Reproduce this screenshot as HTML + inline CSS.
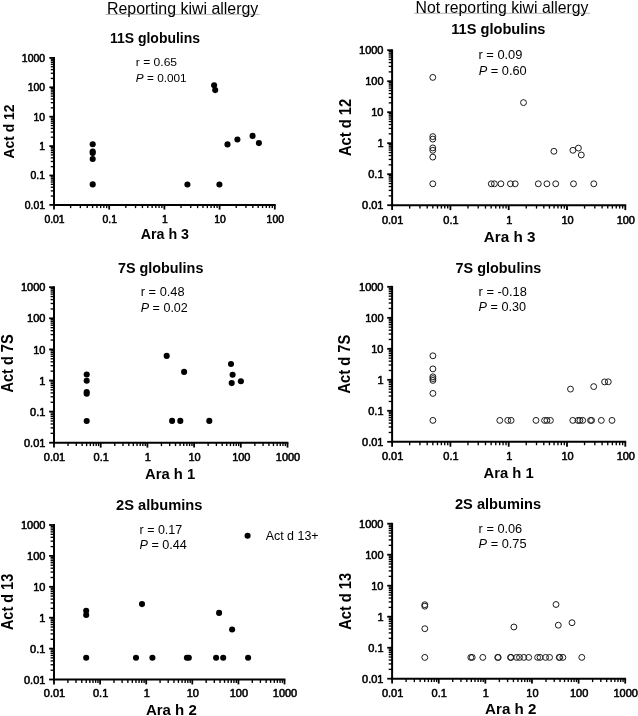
<!DOCTYPE html>
<html><head><meta charset="utf-8"><title>Figure</title>
<style>
html,body{margin:0;padding:0;background:#fff;}
svg{display:block;font-family:"Liberation Sans", sans-serif;will-change:transform;}
</style></head><body>
<svg width="638" height="716" viewBox="0 0 638 716">
<rect width="638" height="716" fill="#fff"/>
<line x1="54.00" y1="57.00" x2="54.00" y2="205.90" stroke="#000" stroke-width="2.0"/>
<line x1="53.00" y1="204.90" x2="275.70" y2="204.90" stroke="#000" stroke-width="2.0"/>
<line x1="49.36" y1="204.90" x2="54.00" y2="204.90" stroke="#000" stroke-width="1.8"/>
<text transform="translate(45.00,208.84)" text-anchor="end" style="font-size:10.42px;stroke:#000;stroke-width:0.55px;stroke-linejoin:round;" fill="#000">0.01</text>
<line x1="50.78" y1="196.05" x2="54.00" y2="196.05" stroke="#000" stroke-width="1.35"/>
<line x1="50.78" y1="190.87" x2="54.00" y2="190.87" stroke="#000" stroke-width="1.35"/>
<line x1="50.78" y1="187.20" x2="54.00" y2="187.20" stroke="#000" stroke-width="1.35"/>
<line x1="50.78" y1="184.35" x2="54.00" y2="184.35" stroke="#000" stroke-width="1.35"/>
<line x1="50.78" y1="182.02" x2="54.00" y2="182.02" stroke="#000" stroke-width="1.35"/>
<line x1="50.78" y1="180.05" x2="54.00" y2="180.05" stroke="#000" stroke-width="1.35"/>
<line x1="50.78" y1="178.35" x2="54.00" y2="178.35" stroke="#000" stroke-width="1.35"/>
<line x1="50.78" y1="176.85" x2="54.00" y2="176.85" stroke="#000" stroke-width="1.35"/>
<line x1="49.36" y1="175.50" x2="54.00" y2="175.50" stroke="#000" stroke-width="1.8"/>
<text transform="translate(45.00,179.44)" text-anchor="end" style="font-size:10.42px;stroke:#000;stroke-width:0.55px;stroke-linejoin:round;" fill="#000">0.1</text>
<line x1="50.78" y1="166.65" x2="54.00" y2="166.65" stroke="#000" stroke-width="1.35"/>
<line x1="50.78" y1="161.47" x2="54.00" y2="161.47" stroke="#000" stroke-width="1.35"/>
<line x1="50.78" y1="157.80" x2="54.00" y2="157.80" stroke="#000" stroke-width="1.35"/>
<line x1="50.78" y1="154.95" x2="54.00" y2="154.95" stroke="#000" stroke-width="1.35"/>
<line x1="50.78" y1="152.62" x2="54.00" y2="152.62" stroke="#000" stroke-width="1.35"/>
<line x1="50.78" y1="150.65" x2="54.00" y2="150.65" stroke="#000" stroke-width="1.35"/>
<line x1="50.78" y1="148.95" x2="54.00" y2="148.95" stroke="#000" stroke-width="1.35"/>
<line x1="50.78" y1="147.45" x2="54.00" y2="147.45" stroke="#000" stroke-width="1.35"/>
<line x1="49.36" y1="146.10" x2="54.00" y2="146.10" stroke="#000" stroke-width="1.8"/>
<text transform="translate(45.00,150.04)" text-anchor="end" style="font-size:10.42px;stroke:#000;stroke-width:0.55px;stroke-linejoin:round;" fill="#000">1</text>
<line x1="50.78" y1="137.25" x2="54.00" y2="137.25" stroke="#000" stroke-width="1.35"/>
<line x1="50.78" y1="132.07" x2="54.00" y2="132.07" stroke="#000" stroke-width="1.35"/>
<line x1="50.78" y1="128.40" x2="54.00" y2="128.40" stroke="#000" stroke-width="1.35"/>
<line x1="50.78" y1="125.55" x2="54.00" y2="125.55" stroke="#000" stroke-width="1.35"/>
<line x1="50.78" y1="123.22" x2="54.00" y2="123.22" stroke="#000" stroke-width="1.35"/>
<line x1="50.78" y1="121.25" x2="54.00" y2="121.25" stroke="#000" stroke-width="1.35"/>
<line x1="50.78" y1="119.55" x2="54.00" y2="119.55" stroke="#000" stroke-width="1.35"/>
<line x1="50.78" y1="118.05" x2="54.00" y2="118.05" stroke="#000" stroke-width="1.35"/>
<line x1="49.36" y1="116.70" x2="54.00" y2="116.70" stroke="#000" stroke-width="1.8"/>
<text transform="translate(45.00,120.64)" text-anchor="end" style="font-size:10.42px;stroke:#000;stroke-width:0.55px;stroke-linejoin:round;" fill="#000">10</text>
<line x1="50.78" y1="107.85" x2="54.00" y2="107.85" stroke="#000" stroke-width="1.35"/>
<line x1="50.78" y1="102.67" x2="54.00" y2="102.67" stroke="#000" stroke-width="1.35"/>
<line x1="50.78" y1="99.00" x2="54.00" y2="99.00" stroke="#000" stroke-width="1.35"/>
<line x1="50.78" y1="96.15" x2="54.00" y2="96.15" stroke="#000" stroke-width="1.35"/>
<line x1="50.78" y1="93.82" x2="54.00" y2="93.82" stroke="#000" stroke-width="1.35"/>
<line x1="50.78" y1="91.85" x2="54.00" y2="91.85" stroke="#000" stroke-width="1.35"/>
<line x1="50.78" y1="90.15" x2="54.00" y2="90.15" stroke="#000" stroke-width="1.35"/>
<line x1="50.78" y1="88.65" x2="54.00" y2="88.65" stroke="#000" stroke-width="1.35"/>
<line x1="49.36" y1="87.30" x2="54.00" y2="87.30" stroke="#000" stroke-width="1.8"/>
<text transform="translate(45.00,91.24)" text-anchor="end" style="font-size:10.42px;stroke:#000;stroke-width:0.55px;stroke-linejoin:round;" fill="#000">100</text>
<line x1="50.78" y1="78.45" x2="54.00" y2="78.45" stroke="#000" stroke-width="1.35"/>
<line x1="50.78" y1="73.27" x2="54.00" y2="73.27" stroke="#000" stroke-width="1.35"/>
<line x1="50.78" y1="69.60" x2="54.00" y2="69.60" stroke="#000" stroke-width="1.35"/>
<line x1="50.78" y1="66.75" x2="54.00" y2="66.75" stroke="#000" stroke-width="1.35"/>
<line x1="50.78" y1="64.42" x2="54.00" y2="64.42" stroke="#000" stroke-width="1.35"/>
<line x1="50.78" y1="62.45" x2="54.00" y2="62.45" stroke="#000" stroke-width="1.35"/>
<line x1="50.78" y1="60.75" x2="54.00" y2="60.75" stroke="#000" stroke-width="1.35"/>
<line x1="50.78" y1="59.25" x2="54.00" y2="59.25" stroke="#000" stroke-width="1.35"/>
<line x1="49.36" y1="57.90" x2="54.00" y2="57.90" stroke="#000" stroke-width="1.8"/>
<text transform="translate(45.00,61.84)" text-anchor="end" style="font-size:10.42px;stroke:#000;stroke-width:0.55px;stroke-linejoin:round;" fill="#000">1000</text>
<line x1="54.00" y1="204.90" x2="54.00" y2="209.54" stroke="#000" stroke-width="1.8"/>
<text transform="translate(54.50,222.75)" text-anchor="middle" style="font-size:10.42px;stroke:#000;stroke-width:0.55px;stroke-linejoin:round;" fill="#000">0.01</text>
<line x1="70.62" y1="204.90" x2="70.62" y2="208.12" stroke="#000" stroke-width="1.35"/>
<line x1="80.34" y1="204.90" x2="80.34" y2="208.12" stroke="#000" stroke-width="1.35"/>
<line x1="87.23" y1="204.90" x2="87.23" y2="208.12" stroke="#000" stroke-width="1.35"/>
<line x1="92.58" y1="204.90" x2="92.58" y2="208.12" stroke="#000" stroke-width="1.35"/>
<line x1="96.95" y1="204.90" x2="96.95" y2="208.12" stroke="#000" stroke-width="1.35"/>
<line x1="100.65" y1="204.90" x2="100.65" y2="208.12" stroke="#000" stroke-width="1.35"/>
<line x1="103.85" y1="204.90" x2="103.85" y2="208.12" stroke="#000" stroke-width="1.35"/>
<line x1="106.67" y1="204.90" x2="106.67" y2="208.12" stroke="#000" stroke-width="1.35"/>
<line x1="109.20" y1="204.90" x2="109.20" y2="209.54" stroke="#000" stroke-width="1.8"/>
<text transform="translate(109.70,222.75)" text-anchor="middle" style="font-size:10.42px;stroke:#000;stroke-width:0.55px;stroke-linejoin:round;" fill="#000">0.1</text>
<line x1="125.82" y1="204.90" x2="125.82" y2="208.12" stroke="#000" stroke-width="1.35"/>
<line x1="135.54" y1="204.90" x2="135.54" y2="208.12" stroke="#000" stroke-width="1.35"/>
<line x1="142.43" y1="204.90" x2="142.43" y2="208.12" stroke="#000" stroke-width="1.35"/>
<line x1="147.78" y1="204.90" x2="147.78" y2="208.12" stroke="#000" stroke-width="1.35"/>
<line x1="152.15" y1="204.90" x2="152.15" y2="208.12" stroke="#000" stroke-width="1.35"/>
<line x1="155.85" y1="204.90" x2="155.85" y2="208.12" stroke="#000" stroke-width="1.35"/>
<line x1="159.05" y1="204.90" x2="159.05" y2="208.12" stroke="#000" stroke-width="1.35"/>
<line x1="161.87" y1="204.90" x2="161.87" y2="208.12" stroke="#000" stroke-width="1.35"/>
<line x1="164.40" y1="204.90" x2="164.40" y2="209.54" stroke="#000" stroke-width="1.8"/>
<text transform="translate(164.90,222.75)" text-anchor="middle" style="font-size:10.42px;stroke:#000;stroke-width:0.55px;stroke-linejoin:round;" fill="#000">1</text>
<line x1="181.02" y1="204.90" x2="181.02" y2="208.12" stroke="#000" stroke-width="1.35"/>
<line x1="190.74" y1="204.90" x2="190.74" y2="208.12" stroke="#000" stroke-width="1.35"/>
<line x1="197.63" y1="204.90" x2="197.63" y2="208.12" stroke="#000" stroke-width="1.35"/>
<line x1="202.98" y1="204.90" x2="202.98" y2="208.12" stroke="#000" stroke-width="1.35"/>
<line x1="207.35" y1="204.90" x2="207.35" y2="208.12" stroke="#000" stroke-width="1.35"/>
<line x1="211.05" y1="204.90" x2="211.05" y2="208.12" stroke="#000" stroke-width="1.35"/>
<line x1="214.25" y1="204.90" x2="214.25" y2="208.12" stroke="#000" stroke-width="1.35"/>
<line x1="217.07" y1="204.90" x2="217.07" y2="208.12" stroke="#000" stroke-width="1.35"/>
<line x1="219.60" y1="204.90" x2="219.60" y2="209.54" stroke="#000" stroke-width="1.8"/>
<text transform="translate(220.10,222.75)" text-anchor="middle" style="font-size:10.42px;stroke:#000;stroke-width:0.55px;stroke-linejoin:round;" fill="#000">10</text>
<line x1="236.22" y1="204.90" x2="236.22" y2="208.12" stroke="#000" stroke-width="1.35"/>
<line x1="245.94" y1="204.90" x2="245.94" y2="208.12" stroke="#000" stroke-width="1.35"/>
<line x1="252.83" y1="204.90" x2="252.83" y2="208.12" stroke="#000" stroke-width="1.35"/>
<line x1="258.18" y1="204.90" x2="258.18" y2="208.12" stroke="#000" stroke-width="1.35"/>
<line x1="262.55" y1="204.90" x2="262.55" y2="208.12" stroke="#000" stroke-width="1.35"/>
<line x1="266.25" y1="204.90" x2="266.25" y2="208.12" stroke="#000" stroke-width="1.35"/>
<line x1="269.45" y1="204.90" x2="269.45" y2="208.12" stroke="#000" stroke-width="1.35"/>
<line x1="272.27" y1="204.90" x2="272.27" y2="208.12" stroke="#000" stroke-width="1.35"/>
<line x1="274.80" y1="204.90" x2="274.80" y2="209.54" stroke="#000" stroke-width="1.8"/>
<text transform="translate(275.30,222.75)" text-anchor="middle" style="font-size:10.42px;stroke:#000;stroke-width:0.55px;stroke-linejoin:round;" fill="#000">100</text>
<text transform="translate(155.00,42.60)" text-anchor="middle" style="font-size:13.83px;font-weight:bold;" fill="#000" textLength="90.00" lengthAdjust="spacingAndGlyphs">11S globulins</text>
<text transform="translate(135.80,66.20) scale(1.0526,1)" text-anchor="start" style="font-size:11.34px;" fill="#000" textLength="39.23" lengthAdjust="spacingAndGlyphs">r = 0.65</text>
<text transform="translate(135.80,81.60) scale(1.0526,1)" style="font-size:11.34px" textLength="48.35" lengthAdjust="spacingAndGlyphs"><tspan style="font-style:italic">P</tspan> = 0.001</text>
<text transform="translate(14.00,131.45) rotate(-90)" text-anchor="middle" style="font-size:13.92px;font-weight:bold;" fill="#000" textLength="53.90" lengthAdjust="spacingAndGlyphs">Act d 12</text>
<text transform="translate(164.85,239.00)" text-anchor="middle" style="font-size:13.83px;font-weight:bold;" fill="#000" textLength="48.30" lengthAdjust="spacingAndGlyphs">Ara h 3</text>
<circle cx="92.7" cy="144.3" r="3.05" fill="#000"/>
<circle cx="92.7" cy="151.5" r="3.05" fill="#000"/>
<circle cx="92.7" cy="153.1" r="3.05" fill="#000"/>
<circle cx="92.7" cy="159.0" r="3.05" fill="#000"/>
<circle cx="92.7" cy="184.4" r="3.05" fill="#000"/>
<circle cx="187.4" cy="184.5" r="3.05" fill="#000"/>
<circle cx="219.4" cy="184.5" r="3.05" fill="#000"/>
<circle cx="214.1" cy="85.2" r="3.05" fill="#000"/>
<circle cx="215.2" cy="90.1" r="3.05" fill="#000"/>
<circle cx="227.5" cy="144.4" r="3.05" fill="#000"/>
<circle cx="237.4" cy="139.5" r="3.05" fill="#000"/>
<circle cx="252.6" cy="135.9" r="3.05" fill="#000"/>
<circle cx="258.9" cy="143.1" r="3.05" fill="#000"/>
<line x1="392.10" y1="49.30" x2="392.10" y2="206.20" stroke="#000" stroke-width="2.0"/>
<line x1="391.10" y1="205.20" x2="626.20" y2="205.20" stroke="#000" stroke-width="2.0"/>
<line x1="387.20" y1="205.20" x2="392.10" y2="205.20" stroke="#000" stroke-width="1.8"/>
<text transform="translate(383.50,209.35)" text-anchor="end" style="font-size:11.00px;stroke:#000;stroke-width:0.55px;stroke-linejoin:round;" fill="#000">0.01</text>
<line x1="388.70" y1="195.87" x2="392.10" y2="195.87" stroke="#000" stroke-width="1.35"/>
<line x1="388.70" y1="190.41" x2="392.10" y2="190.41" stroke="#000" stroke-width="1.35"/>
<line x1="388.70" y1="186.54" x2="392.10" y2="186.54" stroke="#000" stroke-width="1.35"/>
<line x1="388.70" y1="183.53" x2="392.10" y2="183.53" stroke="#000" stroke-width="1.35"/>
<line x1="388.70" y1="181.08" x2="392.10" y2="181.08" stroke="#000" stroke-width="1.35"/>
<line x1="388.70" y1="179.00" x2="392.10" y2="179.00" stroke="#000" stroke-width="1.35"/>
<line x1="388.70" y1="177.20" x2="392.10" y2="177.20" stroke="#000" stroke-width="1.35"/>
<line x1="388.70" y1="175.62" x2="392.10" y2="175.62" stroke="#000" stroke-width="1.35"/>
<line x1="387.20" y1="174.20" x2="392.10" y2="174.20" stroke="#000" stroke-width="1.8"/>
<text transform="translate(383.50,178.35)" text-anchor="end" style="font-size:11.00px;stroke:#000;stroke-width:0.55px;stroke-linejoin:round;" fill="#000">0.1</text>
<line x1="388.70" y1="164.87" x2="392.10" y2="164.87" stroke="#000" stroke-width="1.35"/>
<line x1="388.70" y1="159.41" x2="392.10" y2="159.41" stroke="#000" stroke-width="1.35"/>
<line x1="388.70" y1="155.54" x2="392.10" y2="155.54" stroke="#000" stroke-width="1.35"/>
<line x1="388.70" y1="152.53" x2="392.10" y2="152.53" stroke="#000" stroke-width="1.35"/>
<line x1="388.70" y1="150.08" x2="392.10" y2="150.08" stroke="#000" stroke-width="1.35"/>
<line x1="388.70" y1="148.00" x2="392.10" y2="148.00" stroke="#000" stroke-width="1.35"/>
<line x1="388.70" y1="146.20" x2="392.10" y2="146.20" stroke="#000" stroke-width="1.35"/>
<line x1="388.70" y1="144.62" x2="392.10" y2="144.62" stroke="#000" stroke-width="1.35"/>
<line x1="387.20" y1="143.20" x2="392.10" y2="143.20" stroke="#000" stroke-width="1.8"/>
<text transform="translate(383.50,147.35)" text-anchor="end" style="font-size:11.00px;stroke:#000;stroke-width:0.55px;stroke-linejoin:round;" fill="#000">1</text>
<line x1="388.70" y1="133.87" x2="392.10" y2="133.87" stroke="#000" stroke-width="1.35"/>
<line x1="388.70" y1="128.41" x2="392.10" y2="128.41" stroke="#000" stroke-width="1.35"/>
<line x1="388.70" y1="124.54" x2="392.10" y2="124.54" stroke="#000" stroke-width="1.35"/>
<line x1="388.70" y1="121.53" x2="392.10" y2="121.53" stroke="#000" stroke-width="1.35"/>
<line x1="388.70" y1="119.08" x2="392.10" y2="119.08" stroke="#000" stroke-width="1.35"/>
<line x1="388.70" y1="117.00" x2="392.10" y2="117.00" stroke="#000" stroke-width="1.35"/>
<line x1="388.70" y1="115.20" x2="392.10" y2="115.20" stroke="#000" stroke-width="1.35"/>
<line x1="388.70" y1="113.62" x2="392.10" y2="113.62" stroke="#000" stroke-width="1.35"/>
<line x1="387.20" y1="112.20" x2="392.10" y2="112.20" stroke="#000" stroke-width="1.8"/>
<text transform="translate(383.50,116.35)" text-anchor="end" style="font-size:11.00px;stroke:#000;stroke-width:0.55px;stroke-linejoin:round;" fill="#000">10</text>
<line x1="388.70" y1="102.87" x2="392.10" y2="102.87" stroke="#000" stroke-width="1.35"/>
<line x1="388.70" y1="97.41" x2="392.10" y2="97.41" stroke="#000" stroke-width="1.35"/>
<line x1="388.70" y1="93.54" x2="392.10" y2="93.54" stroke="#000" stroke-width="1.35"/>
<line x1="388.70" y1="90.53" x2="392.10" y2="90.53" stroke="#000" stroke-width="1.35"/>
<line x1="388.70" y1="88.08" x2="392.10" y2="88.08" stroke="#000" stroke-width="1.35"/>
<line x1="388.70" y1="86.00" x2="392.10" y2="86.00" stroke="#000" stroke-width="1.35"/>
<line x1="388.70" y1="84.20" x2="392.10" y2="84.20" stroke="#000" stroke-width="1.35"/>
<line x1="388.70" y1="82.62" x2="392.10" y2="82.62" stroke="#000" stroke-width="1.35"/>
<line x1="387.20" y1="81.20" x2="392.10" y2="81.20" stroke="#000" stroke-width="1.8"/>
<text transform="translate(383.50,85.35)" text-anchor="end" style="font-size:11.00px;stroke:#000;stroke-width:0.55px;stroke-linejoin:round;" fill="#000">100</text>
<line x1="388.70" y1="71.87" x2="392.10" y2="71.87" stroke="#000" stroke-width="1.35"/>
<line x1="388.70" y1="66.41" x2="392.10" y2="66.41" stroke="#000" stroke-width="1.35"/>
<line x1="388.70" y1="62.54" x2="392.10" y2="62.54" stroke="#000" stroke-width="1.35"/>
<line x1="388.70" y1="59.53" x2="392.10" y2="59.53" stroke="#000" stroke-width="1.35"/>
<line x1="388.70" y1="57.08" x2="392.10" y2="57.08" stroke="#000" stroke-width="1.35"/>
<line x1="388.70" y1="55.00" x2="392.10" y2="55.00" stroke="#000" stroke-width="1.35"/>
<line x1="388.70" y1="53.20" x2="392.10" y2="53.20" stroke="#000" stroke-width="1.35"/>
<line x1="388.70" y1="51.62" x2="392.10" y2="51.62" stroke="#000" stroke-width="1.35"/>
<line x1="387.20" y1="50.20" x2="392.10" y2="50.20" stroke="#000" stroke-width="1.8"/>
<text transform="translate(383.50,54.35)" text-anchor="end" style="font-size:11.00px;stroke:#000;stroke-width:0.55px;stroke-linejoin:round;" fill="#000">1000</text>
<line x1="392.10" y1="205.20" x2="392.10" y2="210.10" stroke="#000" stroke-width="1.8"/>
<text transform="translate(392.60,224.15)" text-anchor="middle" style="font-size:11.00px;stroke:#000;stroke-width:0.55px;stroke-linejoin:round;" fill="#000">0.01</text>
<line x1="409.65" y1="205.20" x2="409.65" y2="208.60" stroke="#000" stroke-width="1.35"/>
<line x1="419.92" y1="205.20" x2="419.92" y2="208.60" stroke="#000" stroke-width="1.35"/>
<line x1="427.20" y1="205.20" x2="427.20" y2="208.60" stroke="#000" stroke-width="1.35"/>
<line x1="432.85" y1="205.20" x2="432.85" y2="208.60" stroke="#000" stroke-width="1.35"/>
<line x1="437.47" y1="205.20" x2="437.47" y2="208.60" stroke="#000" stroke-width="1.35"/>
<line x1="441.37" y1="205.20" x2="441.37" y2="208.60" stroke="#000" stroke-width="1.35"/>
<line x1="444.75" y1="205.20" x2="444.75" y2="208.60" stroke="#000" stroke-width="1.35"/>
<line x1="447.73" y1="205.20" x2="447.73" y2="208.60" stroke="#000" stroke-width="1.35"/>
<line x1="450.40" y1="205.20" x2="450.40" y2="210.10" stroke="#000" stroke-width="1.8"/>
<text transform="translate(450.90,224.15)" text-anchor="middle" style="font-size:11.00px;stroke:#000;stroke-width:0.55px;stroke-linejoin:round;" fill="#000">0.1</text>
<line x1="467.95" y1="205.20" x2="467.95" y2="208.60" stroke="#000" stroke-width="1.35"/>
<line x1="478.22" y1="205.20" x2="478.22" y2="208.60" stroke="#000" stroke-width="1.35"/>
<line x1="485.50" y1="205.20" x2="485.50" y2="208.60" stroke="#000" stroke-width="1.35"/>
<line x1="491.15" y1="205.20" x2="491.15" y2="208.60" stroke="#000" stroke-width="1.35"/>
<line x1="495.77" y1="205.20" x2="495.77" y2="208.60" stroke="#000" stroke-width="1.35"/>
<line x1="499.67" y1="205.20" x2="499.67" y2="208.60" stroke="#000" stroke-width="1.35"/>
<line x1="503.05" y1="205.20" x2="503.05" y2="208.60" stroke="#000" stroke-width="1.35"/>
<line x1="506.03" y1="205.20" x2="506.03" y2="208.60" stroke="#000" stroke-width="1.35"/>
<line x1="508.70" y1="205.20" x2="508.70" y2="210.10" stroke="#000" stroke-width="1.8"/>
<text transform="translate(509.20,224.15)" text-anchor="middle" style="font-size:11.00px;stroke:#000;stroke-width:0.55px;stroke-linejoin:round;" fill="#000">1</text>
<line x1="526.25" y1="205.20" x2="526.25" y2="208.60" stroke="#000" stroke-width="1.35"/>
<line x1="536.52" y1="205.20" x2="536.52" y2="208.60" stroke="#000" stroke-width="1.35"/>
<line x1="543.80" y1="205.20" x2="543.80" y2="208.60" stroke="#000" stroke-width="1.35"/>
<line x1="549.45" y1="205.20" x2="549.45" y2="208.60" stroke="#000" stroke-width="1.35"/>
<line x1="554.07" y1="205.20" x2="554.07" y2="208.60" stroke="#000" stroke-width="1.35"/>
<line x1="557.97" y1="205.20" x2="557.97" y2="208.60" stroke="#000" stroke-width="1.35"/>
<line x1="561.35" y1="205.20" x2="561.35" y2="208.60" stroke="#000" stroke-width="1.35"/>
<line x1="564.33" y1="205.20" x2="564.33" y2="208.60" stroke="#000" stroke-width="1.35"/>
<line x1="567.00" y1="205.20" x2="567.00" y2="210.10" stroke="#000" stroke-width="1.8"/>
<text transform="translate(567.50,224.15)" text-anchor="middle" style="font-size:11.00px;stroke:#000;stroke-width:0.55px;stroke-linejoin:round;" fill="#000">10</text>
<line x1="584.55" y1="205.20" x2="584.55" y2="208.60" stroke="#000" stroke-width="1.35"/>
<line x1="594.82" y1="205.20" x2="594.82" y2="208.60" stroke="#000" stroke-width="1.35"/>
<line x1="602.10" y1="205.20" x2="602.10" y2="208.60" stroke="#000" stroke-width="1.35"/>
<line x1="607.75" y1="205.20" x2="607.75" y2="208.60" stroke="#000" stroke-width="1.35"/>
<line x1="612.37" y1="205.20" x2="612.37" y2="208.60" stroke="#000" stroke-width="1.35"/>
<line x1="616.27" y1="205.20" x2="616.27" y2="208.60" stroke="#000" stroke-width="1.35"/>
<line x1="619.65" y1="205.20" x2="619.65" y2="208.60" stroke="#000" stroke-width="1.35"/>
<line x1="622.63" y1="205.20" x2="622.63" y2="208.60" stroke="#000" stroke-width="1.35"/>
<line x1="625.30" y1="205.20" x2="625.30" y2="210.10" stroke="#000" stroke-width="1.8"/>
<text transform="translate(625.80,224.15)" text-anchor="middle" style="font-size:11.00px;stroke:#000;stroke-width:0.55px;stroke-linejoin:round;" fill="#000">100</text>
<text transform="translate(498.35,33.90)" text-anchor="middle" style="font-size:14.60px;font-weight:bold;" fill="#000" textLength="94.30" lengthAdjust="spacingAndGlyphs">11S globulins</text>
<text transform="translate(478.50,59.00) scale(1.0526,1)" text-anchor="start" style="font-size:11.97px;" fill="#000" textLength="41.70" lengthAdjust="spacingAndGlyphs">r = 0.09</text>
<text transform="translate(478.70,74.50) scale(1.0526,1)" style="font-size:11.97px" textLength="45.60" lengthAdjust="spacingAndGlyphs"><tspan style="font-style:italic">P</tspan> = 0.60</text>
<text transform="translate(350.90,127.50) rotate(-90) scale(1,1.07)" text-anchor="middle" style="font-size:14.70px;font-weight:bold;" fill="#000" textLength="57.20" lengthAdjust="spacingAndGlyphs">Act d 12</text>
<text transform="translate(509.65,241.70)" text-anchor="middle" style="font-size:14.60px;font-weight:bold;" fill="#000" textLength="51.70" lengthAdjust="spacingAndGlyphs">Ara h 3</text>
<circle cx="432.8" cy="77.4" r="2.95" fill="none" stroke="#1c1c1c" stroke-width="1.0"/>
<circle cx="432.8" cy="136.6" r="2.95" fill="none" stroke="#1c1c1c" stroke-width="1.0"/>
<circle cx="432.8" cy="139.1" r="2.95" fill="none" stroke="#1c1c1c" stroke-width="1.0"/>
<circle cx="432.8" cy="147.9" r="2.95" fill="none" stroke="#1c1c1c" stroke-width="1.0"/>
<circle cx="432.8" cy="150.3" r="2.95" fill="none" stroke="#1c1c1c" stroke-width="1.0"/>
<circle cx="432.8" cy="157.1" r="2.95" fill="none" stroke="#1c1c1c" stroke-width="1.0"/>
<circle cx="432.8" cy="183.8" r="2.95" fill="none" stroke="#1c1c1c" stroke-width="1.0"/>
<circle cx="491.3" cy="183.8" r="2.95" fill="none" stroke="#1c1c1c" stroke-width="1.0"/>
<circle cx="494.4" cy="183.8" r="2.95" fill="none" stroke="#1c1c1c" stroke-width="1.0"/>
<circle cx="500.9" cy="183.8" r="2.95" fill="none" stroke="#1c1c1c" stroke-width="1.0"/>
<circle cx="510.4" cy="183.8" r="2.95" fill="none" stroke="#1c1c1c" stroke-width="1.0"/>
<circle cx="515.2" cy="183.8" r="2.95" fill="none" stroke="#1c1c1c" stroke-width="1.0"/>
<circle cx="538.3" cy="183.8" r="2.95" fill="none" stroke="#1c1c1c" stroke-width="1.0"/>
<circle cx="546.9" cy="183.8" r="2.95" fill="none" stroke="#1c1c1c" stroke-width="1.0"/>
<circle cx="555.7" cy="183.8" r="2.95" fill="none" stroke="#1c1c1c" stroke-width="1.0"/>
<circle cx="573.5" cy="183.8" r="2.95" fill="none" stroke="#1c1c1c" stroke-width="1.0"/>
<circle cx="593.8" cy="183.8" r="2.95" fill="none" stroke="#1c1c1c" stroke-width="1.0"/>
<circle cx="523.5" cy="102.6" r="2.95" fill="none" stroke="#1c1c1c" stroke-width="1.0"/>
<circle cx="553.9" cy="151.3" r="2.95" fill="none" stroke="#1c1c1c" stroke-width="1.0"/>
<circle cx="572.9" cy="150.3" r="2.95" fill="none" stroke="#1c1c1c" stroke-width="1.0"/>
<circle cx="578.4" cy="148.1" r="2.95" fill="none" stroke="#1c1c1c" stroke-width="1.0"/>
<circle cx="581.3" cy="155.0" r="2.95" fill="none" stroke="#1c1c1c" stroke-width="1.0"/>
<line x1="54.00" y1="286.30" x2="54.00" y2="443.70" stroke="#000" stroke-width="2.0"/>
<line x1="53.00" y1="442.70" x2="288.40" y2="442.70" stroke="#000" stroke-width="2.0"/>
<line x1="49.10" y1="442.70" x2="54.00" y2="442.70" stroke="#000" stroke-width="1.8"/>
<text transform="translate(45.40,446.85)" text-anchor="end" style="font-size:11.00px;stroke:#000;stroke-width:0.55px;stroke-linejoin:round;" fill="#000">0.01</text>
<line x1="50.60" y1="433.34" x2="54.00" y2="433.34" stroke="#000" stroke-width="1.35"/>
<line x1="50.60" y1="427.86" x2="54.00" y2="427.86" stroke="#000" stroke-width="1.35"/>
<line x1="50.60" y1="423.98" x2="54.00" y2="423.98" stroke="#000" stroke-width="1.35"/>
<line x1="50.60" y1="420.96" x2="54.00" y2="420.96" stroke="#000" stroke-width="1.35"/>
<line x1="50.60" y1="418.50" x2="54.00" y2="418.50" stroke="#000" stroke-width="1.35"/>
<line x1="50.60" y1="416.42" x2="54.00" y2="416.42" stroke="#000" stroke-width="1.35"/>
<line x1="50.60" y1="414.61" x2="54.00" y2="414.61" stroke="#000" stroke-width="1.35"/>
<line x1="50.60" y1="413.02" x2="54.00" y2="413.02" stroke="#000" stroke-width="1.35"/>
<line x1="49.10" y1="411.60" x2="54.00" y2="411.60" stroke="#000" stroke-width="1.8"/>
<text transform="translate(45.40,415.75)" text-anchor="end" style="font-size:11.00px;stroke:#000;stroke-width:0.55px;stroke-linejoin:round;" fill="#000">0.1</text>
<line x1="50.60" y1="402.24" x2="54.00" y2="402.24" stroke="#000" stroke-width="1.35"/>
<line x1="50.60" y1="396.76" x2="54.00" y2="396.76" stroke="#000" stroke-width="1.35"/>
<line x1="50.60" y1="392.88" x2="54.00" y2="392.88" stroke="#000" stroke-width="1.35"/>
<line x1="50.60" y1="389.86" x2="54.00" y2="389.86" stroke="#000" stroke-width="1.35"/>
<line x1="50.60" y1="387.40" x2="54.00" y2="387.40" stroke="#000" stroke-width="1.35"/>
<line x1="50.60" y1="385.32" x2="54.00" y2="385.32" stroke="#000" stroke-width="1.35"/>
<line x1="50.60" y1="383.51" x2="54.00" y2="383.51" stroke="#000" stroke-width="1.35"/>
<line x1="50.60" y1="381.92" x2="54.00" y2="381.92" stroke="#000" stroke-width="1.35"/>
<line x1="49.10" y1="380.50" x2="54.00" y2="380.50" stroke="#000" stroke-width="1.8"/>
<text transform="translate(45.40,384.65)" text-anchor="end" style="font-size:11.00px;stroke:#000;stroke-width:0.55px;stroke-linejoin:round;" fill="#000">1</text>
<line x1="50.60" y1="371.14" x2="54.00" y2="371.14" stroke="#000" stroke-width="1.35"/>
<line x1="50.60" y1="365.66" x2="54.00" y2="365.66" stroke="#000" stroke-width="1.35"/>
<line x1="50.60" y1="361.78" x2="54.00" y2="361.78" stroke="#000" stroke-width="1.35"/>
<line x1="50.60" y1="358.76" x2="54.00" y2="358.76" stroke="#000" stroke-width="1.35"/>
<line x1="50.60" y1="356.30" x2="54.00" y2="356.30" stroke="#000" stroke-width="1.35"/>
<line x1="50.60" y1="354.22" x2="54.00" y2="354.22" stroke="#000" stroke-width="1.35"/>
<line x1="50.60" y1="352.41" x2="54.00" y2="352.41" stroke="#000" stroke-width="1.35"/>
<line x1="50.60" y1="350.82" x2="54.00" y2="350.82" stroke="#000" stroke-width="1.35"/>
<line x1="49.10" y1="349.40" x2="54.00" y2="349.40" stroke="#000" stroke-width="1.8"/>
<text transform="translate(45.40,353.55)" text-anchor="end" style="font-size:11.00px;stroke:#000;stroke-width:0.55px;stroke-linejoin:round;" fill="#000">10</text>
<line x1="50.60" y1="340.04" x2="54.00" y2="340.04" stroke="#000" stroke-width="1.35"/>
<line x1="50.60" y1="334.56" x2="54.00" y2="334.56" stroke="#000" stroke-width="1.35"/>
<line x1="50.60" y1="330.68" x2="54.00" y2="330.68" stroke="#000" stroke-width="1.35"/>
<line x1="50.60" y1="327.66" x2="54.00" y2="327.66" stroke="#000" stroke-width="1.35"/>
<line x1="50.60" y1="325.20" x2="54.00" y2="325.20" stroke="#000" stroke-width="1.35"/>
<line x1="50.60" y1="323.12" x2="54.00" y2="323.12" stroke="#000" stroke-width="1.35"/>
<line x1="50.60" y1="321.31" x2="54.00" y2="321.31" stroke="#000" stroke-width="1.35"/>
<line x1="50.60" y1="319.72" x2="54.00" y2="319.72" stroke="#000" stroke-width="1.35"/>
<line x1="49.10" y1="318.30" x2="54.00" y2="318.30" stroke="#000" stroke-width="1.8"/>
<text transform="translate(45.40,322.45)" text-anchor="end" style="font-size:11.00px;stroke:#000;stroke-width:0.55px;stroke-linejoin:round;" fill="#000">100</text>
<line x1="50.60" y1="308.94" x2="54.00" y2="308.94" stroke="#000" stroke-width="1.35"/>
<line x1="50.60" y1="303.46" x2="54.00" y2="303.46" stroke="#000" stroke-width="1.35"/>
<line x1="50.60" y1="299.58" x2="54.00" y2="299.58" stroke="#000" stroke-width="1.35"/>
<line x1="50.60" y1="296.56" x2="54.00" y2="296.56" stroke="#000" stroke-width="1.35"/>
<line x1="50.60" y1="294.10" x2="54.00" y2="294.10" stroke="#000" stroke-width="1.35"/>
<line x1="50.60" y1="292.02" x2="54.00" y2="292.02" stroke="#000" stroke-width="1.35"/>
<line x1="50.60" y1="290.21" x2="54.00" y2="290.21" stroke="#000" stroke-width="1.35"/>
<line x1="50.60" y1="288.62" x2="54.00" y2="288.62" stroke="#000" stroke-width="1.35"/>
<line x1="49.10" y1="287.20" x2="54.00" y2="287.20" stroke="#000" stroke-width="1.8"/>
<text transform="translate(45.40,291.35)" text-anchor="end" style="font-size:11.00px;stroke:#000;stroke-width:0.55px;stroke-linejoin:round;" fill="#000">1000</text>
<line x1="54.00" y1="442.70" x2="54.00" y2="447.60" stroke="#000" stroke-width="1.8"/>
<text transform="translate(54.50,461.05)" text-anchor="middle" style="font-size:11.00px;stroke:#000;stroke-width:0.55px;stroke-linejoin:round;" fill="#000">0.01</text>
<line x1="68.06" y1="442.70" x2="68.06" y2="446.10" stroke="#000" stroke-width="1.35"/>
<line x1="76.28" y1="442.70" x2="76.28" y2="446.10" stroke="#000" stroke-width="1.35"/>
<line x1="82.12" y1="442.70" x2="82.12" y2="446.10" stroke="#000" stroke-width="1.35"/>
<line x1="86.64" y1="442.70" x2="86.64" y2="446.10" stroke="#000" stroke-width="1.35"/>
<line x1="90.34" y1="442.70" x2="90.34" y2="446.10" stroke="#000" stroke-width="1.35"/>
<line x1="93.47" y1="442.70" x2="93.47" y2="446.10" stroke="#000" stroke-width="1.35"/>
<line x1="96.17" y1="442.70" x2="96.17" y2="446.10" stroke="#000" stroke-width="1.35"/>
<line x1="98.56" y1="442.70" x2="98.56" y2="446.10" stroke="#000" stroke-width="1.35"/>
<line x1="100.70" y1="442.70" x2="100.70" y2="447.60" stroke="#000" stroke-width="1.8"/>
<text transform="translate(101.20,461.05)" text-anchor="middle" style="font-size:11.00px;stroke:#000;stroke-width:0.55px;stroke-linejoin:round;" fill="#000">0.1</text>
<line x1="114.76" y1="442.70" x2="114.76" y2="446.10" stroke="#000" stroke-width="1.35"/>
<line x1="122.98" y1="442.70" x2="122.98" y2="446.10" stroke="#000" stroke-width="1.35"/>
<line x1="128.82" y1="442.70" x2="128.82" y2="446.10" stroke="#000" stroke-width="1.35"/>
<line x1="133.34" y1="442.70" x2="133.34" y2="446.10" stroke="#000" stroke-width="1.35"/>
<line x1="137.04" y1="442.70" x2="137.04" y2="446.10" stroke="#000" stroke-width="1.35"/>
<line x1="140.17" y1="442.70" x2="140.17" y2="446.10" stroke="#000" stroke-width="1.35"/>
<line x1="142.87" y1="442.70" x2="142.87" y2="446.10" stroke="#000" stroke-width="1.35"/>
<line x1="145.26" y1="442.70" x2="145.26" y2="446.10" stroke="#000" stroke-width="1.35"/>
<line x1="147.40" y1="442.70" x2="147.40" y2="447.60" stroke="#000" stroke-width="1.8"/>
<text transform="translate(147.90,461.05)" text-anchor="middle" style="font-size:11.00px;stroke:#000;stroke-width:0.55px;stroke-linejoin:round;" fill="#000">1</text>
<line x1="161.46" y1="442.70" x2="161.46" y2="446.10" stroke="#000" stroke-width="1.35"/>
<line x1="169.68" y1="442.70" x2="169.68" y2="446.10" stroke="#000" stroke-width="1.35"/>
<line x1="175.52" y1="442.70" x2="175.52" y2="446.10" stroke="#000" stroke-width="1.35"/>
<line x1="180.04" y1="442.70" x2="180.04" y2="446.10" stroke="#000" stroke-width="1.35"/>
<line x1="183.74" y1="442.70" x2="183.74" y2="446.10" stroke="#000" stroke-width="1.35"/>
<line x1="186.87" y1="442.70" x2="186.87" y2="446.10" stroke="#000" stroke-width="1.35"/>
<line x1="189.57" y1="442.70" x2="189.57" y2="446.10" stroke="#000" stroke-width="1.35"/>
<line x1="191.96" y1="442.70" x2="191.96" y2="446.10" stroke="#000" stroke-width="1.35"/>
<line x1="194.10" y1="442.70" x2="194.10" y2="447.60" stroke="#000" stroke-width="1.8"/>
<text transform="translate(194.60,461.05)" text-anchor="middle" style="font-size:11.00px;stroke:#000;stroke-width:0.55px;stroke-linejoin:round;" fill="#000">10</text>
<line x1="208.16" y1="442.70" x2="208.16" y2="446.10" stroke="#000" stroke-width="1.35"/>
<line x1="216.38" y1="442.70" x2="216.38" y2="446.10" stroke="#000" stroke-width="1.35"/>
<line x1="222.22" y1="442.70" x2="222.22" y2="446.10" stroke="#000" stroke-width="1.35"/>
<line x1="226.74" y1="442.70" x2="226.74" y2="446.10" stroke="#000" stroke-width="1.35"/>
<line x1="230.44" y1="442.70" x2="230.44" y2="446.10" stroke="#000" stroke-width="1.35"/>
<line x1="233.57" y1="442.70" x2="233.57" y2="446.10" stroke="#000" stroke-width="1.35"/>
<line x1="236.27" y1="442.70" x2="236.27" y2="446.10" stroke="#000" stroke-width="1.35"/>
<line x1="238.66" y1="442.70" x2="238.66" y2="446.10" stroke="#000" stroke-width="1.35"/>
<line x1="240.80" y1="442.70" x2="240.80" y2="447.60" stroke="#000" stroke-width="1.8"/>
<text transform="translate(241.30,461.05)" text-anchor="middle" style="font-size:11.00px;stroke:#000;stroke-width:0.55px;stroke-linejoin:round;" fill="#000">100</text>
<line x1="254.86" y1="442.70" x2="254.86" y2="446.10" stroke="#000" stroke-width="1.35"/>
<line x1="263.08" y1="442.70" x2="263.08" y2="446.10" stroke="#000" stroke-width="1.35"/>
<line x1="268.92" y1="442.70" x2="268.92" y2="446.10" stroke="#000" stroke-width="1.35"/>
<line x1="273.44" y1="442.70" x2="273.44" y2="446.10" stroke="#000" stroke-width="1.35"/>
<line x1="277.14" y1="442.70" x2="277.14" y2="446.10" stroke="#000" stroke-width="1.35"/>
<line x1="280.27" y1="442.70" x2="280.27" y2="446.10" stroke="#000" stroke-width="1.35"/>
<line x1="282.97" y1="442.70" x2="282.97" y2="446.10" stroke="#000" stroke-width="1.35"/>
<line x1="285.36" y1="442.70" x2="285.36" y2="446.10" stroke="#000" stroke-width="1.35"/>
<line x1="287.50" y1="442.70" x2="287.50" y2="447.60" stroke="#000" stroke-width="1.8"/>
<text transform="translate(288.00,461.05)" text-anchor="middle" style="font-size:11.00px;stroke:#000;stroke-width:0.55px;stroke-linejoin:round;" fill="#000">1000</text>
<text transform="translate(160.65,272.90)" text-anchor="middle" style="font-size:14.60px;font-weight:bold;" fill="#000" textLength="85.50" lengthAdjust="spacingAndGlyphs">7S globulins</text>
<text transform="translate(140.80,295.60) scale(1.0526,1)" text-anchor="start" style="font-size:11.97px;" fill="#000" textLength="41.61" lengthAdjust="spacingAndGlyphs">r = 0.48</text>
<text transform="translate(140.80,311.60) scale(1.0526,1)" style="font-size:11.97px" textLength="44.65" lengthAdjust="spacingAndGlyphs"><tspan style="font-style:italic">P</tspan> = 0.02</text>
<text transform="translate(12.90,363.50) rotate(-90) scale(1,1.07)" text-anchor="middle" style="font-size:14.70px;font-weight:bold;" fill="#000" textLength="58.20" lengthAdjust="spacingAndGlyphs">Act d 7S</text>
<text transform="translate(170.15,478.70)" text-anchor="middle" style="font-size:14.60px;font-weight:bold;" fill="#000" textLength="50.10" lengthAdjust="spacingAndGlyphs">Ara h 1</text>
<circle cx="86.7" cy="374.5" r="3.05" fill="#000"/>
<circle cx="86.7" cy="380.8" r="3.05" fill="#000"/>
<circle cx="86.7" cy="392.1" r="3.05" fill="#000"/>
<circle cx="86.7" cy="393.8" r="3.05" fill="#000"/>
<circle cx="86.7" cy="421.0" r="3.05" fill="#000"/>
<circle cx="166.7" cy="355.9" r="3.05" fill="#000"/>
<circle cx="184.1" cy="371.9" r="3.05" fill="#000"/>
<circle cx="231.0" cy="364.0" r="3.05" fill="#000"/>
<circle cx="232.6" cy="374.8" r="3.05" fill="#000"/>
<circle cx="231.7" cy="383.1" r="3.05" fill="#000"/>
<circle cx="240.9" cy="381.2" r="3.05" fill="#000"/>
<circle cx="172.1" cy="420.9" r="3.05" fill="#000"/>
<circle cx="180.3" cy="420.9" r="3.05" fill="#000"/>
<circle cx="209.3" cy="420.9" r="3.05" fill="#000"/>
<line x1="392.10" y1="285.90" x2="392.10" y2="442.80" stroke="#000" stroke-width="2.0"/>
<line x1="391.10" y1="441.80" x2="626.20" y2="441.80" stroke="#000" stroke-width="2.0"/>
<line x1="387.20" y1="441.80" x2="392.10" y2="441.80" stroke="#000" stroke-width="1.8"/>
<text transform="translate(383.50,445.95)" text-anchor="end" style="font-size:11.00px;stroke:#000;stroke-width:0.55px;stroke-linejoin:round;" fill="#000">0.01</text>
<line x1="388.70" y1="432.47" x2="392.10" y2="432.47" stroke="#000" stroke-width="1.35"/>
<line x1="388.70" y1="427.01" x2="392.10" y2="427.01" stroke="#000" stroke-width="1.35"/>
<line x1="388.70" y1="423.14" x2="392.10" y2="423.14" stroke="#000" stroke-width="1.35"/>
<line x1="388.70" y1="420.13" x2="392.10" y2="420.13" stroke="#000" stroke-width="1.35"/>
<line x1="388.70" y1="417.68" x2="392.10" y2="417.68" stroke="#000" stroke-width="1.35"/>
<line x1="388.70" y1="415.60" x2="392.10" y2="415.60" stroke="#000" stroke-width="1.35"/>
<line x1="388.70" y1="413.80" x2="392.10" y2="413.80" stroke="#000" stroke-width="1.35"/>
<line x1="388.70" y1="412.22" x2="392.10" y2="412.22" stroke="#000" stroke-width="1.35"/>
<line x1="387.20" y1="410.80" x2="392.10" y2="410.80" stroke="#000" stroke-width="1.8"/>
<text transform="translate(383.50,414.95)" text-anchor="end" style="font-size:11.00px;stroke:#000;stroke-width:0.55px;stroke-linejoin:round;" fill="#000">0.1</text>
<line x1="388.70" y1="401.47" x2="392.10" y2="401.47" stroke="#000" stroke-width="1.35"/>
<line x1="388.70" y1="396.01" x2="392.10" y2="396.01" stroke="#000" stroke-width="1.35"/>
<line x1="388.70" y1="392.14" x2="392.10" y2="392.14" stroke="#000" stroke-width="1.35"/>
<line x1="388.70" y1="389.13" x2="392.10" y2="389.13" stroke="#000" stroke-width="1.35"/>
<line x1="388.70" y1="386.68" x2="392.10" y2="386.68" stroke="#000" stroke-width="1.35"/>
<line x1="388.70" y1="384.60" x2="392.10" y2="384.60" stroke="#000" stroke-width="1.35"/>
<line x1="388.70" y1="382.80" x2="392.10" y2="382.80" stroke="#000" stroke-width="1.35"/>
<line x1="388.70" y1="381.22" x2="392.10" y2="381.22" stroke="#000" stroke-width="1.35"/>
<line x1="387.20" y1="379.80" x2="392.10" y2="379.80" stroke="#000" stroke-width="1.8"/>
<text transform="translate(383.50,383.95)" text-anchor="end" style="font-size:11.00px;stroke:#000;stroke-width:0.55px;stroke-linejoin:round;" fill="#000">1</text>
<line x1="388.70" y1="370.47" x2="392.10" y2="370.47" stroke="#000" stroke-width="1.35"/>
<line x1="388.70" y1="365.01" x2="392.10" y2="365.01" stroke="#000" stroke-width="1.35"/>
<line x1="388.70" y1="361.14" x2="392.10" y2="361.14" stroke="#000" stroke-width="1.35"/>
<line x1="388.70" y1="358.13" x2="392.10" y2="358.13" stroke="#000" stroke-width="1.35"/>
<line x1="388.70" y1="355.68" x2="392.10" y2="355.68" stroke="#000" stroke-width="1.35"/>
<line x1="388.70" y1="353.60" x2="392.10" y2="353.60" stroke="#000" stroke-width="1.35"/>
<line x1="388.70" y1="351.80" x2="392.10" y2="351.80" stroke="#000" stroke-width="1.35"/>
<line x1="388.70" y1="350.22" x2="392.10" y2="350.22" stroke="#000" stroke-width="1.35"/>
<line x1="387.20" y1="348.80" x2="392.10" y2="348.80" stroke="#000" stroke-width="1.8"/>
<text transform="translate(383.50,352.95)" text-anchor="end" style="font-size:11.00px;stroke:#000;stroke-width:0.55px;stroke-linejoin:round;" fill="#000">10</text>
<line x1="388.70" y1="339.47" x2="392.10" y2="339.47" stroke="#000" stroke-width="1.35"/>
<line x1="388.70" y1="334.01" x2="392.10" y2="334.01" stroke="#000" stroke-width="1.35"/>
<line x1="388.70" y1="330.14" x2="392.10" y2="330.14" stroke="#000" stroke-width="1.35"/>
<line x1="388.70" y1="327.13" x2="392.10" y2="327.13" stroke="#000" stroke-width="1.35"/>
<line x1="388.70" y1="324.68" x2="392.10" y2="324.68" stroke="#000" stroke-width="1.35"/>
<line x1="388.70" y1="322.60" x2="392.10" y2="322.60" stroke="#000" stroke-width="1.35"/>
<line x1="388.70" y1="320.80" x2="392.10" y2="320.80" stroke="#000" stroke-width="1.35"/>
<line x1="388.70" y1="319.22" x2="392.10" y2="319.22" stroke="#000" stroke-width="1.35"/>
<line x1="387.20" y1="317.80" x2="392.10" y2="317.80" stroke="#000" stroke-width="1.8"/>
<text transform="translate(383.50,321.95)" text-anchor="end" style="font-size:11.00px;stroke:#000;stroke-width:0.55px;stroke-linejoin:round;" fill="#000">100</text>
<line x1="388.70" y1="308.47" x2="392.10" y2="308.47" stroke="#000" stroke-width="1.35"/>
<line x1="388.70" y1="303.01" x2="392.10" y2="303.01" stroke="#000" stroke-width="1.35"/>
<line x1="388.70" y1="299.14" x2="392.10" y2="299.14" stroke="#000" stroke-width="1.35"/>
<line x1="388.70" y1="296.13" x2="392.10" y2="296.13" stroke="#000" stroke-width="1.35"/>
<line x1="388.70" y1="293.68" x2="392.10" y2="293.68" stroke="#000" stroke-width="1.35"/>
<line x1="388.70" y1="291.60" x2="392.10" y2="291.60" stroke="#000" stroke-width="1.35"/>
<line x1="388.70" y1="289.80" x2="392.10" y2="289.80" stroke="#000" stroke-width="1.35"/>
<line x1="388.70" y1="288.22" x2="392.10" y2="288.22" stroke="#000" stroke-width="1.35"/>
<line x1="387.20" y1="286.80" x2="392.10" y2="286.80" stroke="#000" stroke-width="1.8"/>
<text transform="translate(383.50,290.95)" text-anchor="end" style="font-size:11.00px;stroke:#000;stroke-width:0.55px;stroke-linejoin:round;" fill="#000">1000</text>
<line x1="392.10" y1="441.80" x2="392.10" y2="446.70" stroke="#000" stroke-width="1.8"/>
<text transform="translate(392.60,460.25)" text-anchor="middle" style="font-size:11.00px;stroke:#000;stroke-width:0.55px;stroke-linejoin:round;" fill="#000">0.01</text>
<line x1="409.65" y1="441.80" x2="409.65" y2="445.20" stroke="#000" stroke-width="1.35"/>
<line x1="419.92" y1="441.80" x2="419.92" y2="445.20" stroke="#000" stroke-width="1.35"/>
<line x1="427.20" y1="441.80" x2="427.20" y2="445.20" stroke="#000" stroke-width="1.35"/>
<line x1="432.85" y1="441.80" x2="432.85" y2="445.20" stroke="#000" stroke-width="1.35"/>
<line x1="437.47" y1="441.80" x2="437.47" y2="445.20" stroke="#000" stroke-width="1.35"/>
<line x1="441.37" y1="441.80" x2="441.37" y2="445.20" stroke="#000" stroke-width="1.35"/>
<line x1="444.75" y1="441.80" x2="444.75" y2="445.20" stroke="#000" stroke-width="1.35"/>
<line x1="447.73" y1="441.80" x2="447.73" y2="445.20" stroke="#000" stroke-width="1.35"/>
<line x1="450.40" y1="441.80" x2="450.40" y2="446.70" stroke="#000" stroke-width="1.8"/>
<text transform="translate(450.90,460.25)" text-anchor="middle" style="font-size:11.00px;stroke:#000;stroke-width:0.55px;stroke-linejoin:round;" fill="#000">0.1</text>
<line x1="467.95" y1="441.80" x2="467.95" y2="445.20" stroke="#000" stroke-width="1.35"/>
<line x1="478.22" y1="441.80" x2="478.22" y2="445.20" stroke="#000" stroke-width="1.35"/>
<line x1="485.50" y1="441.80" x2="485.50" y2="445.20" stroke="#000" stroke-width="1.35"/>
<line x1="491.15" y1="441.80" x2="491.15" y2="445.20" stroke="#000" stroke-width="1.35"/>
<line x1="495.77" y1="441.80" x2="495.77" y2="445.20" stroke="#000" stroke-width="1.35"/>
<line x1="499.67" y1="441.80" x2="499.67" y2="445.20" stroke="#000" stroke-width="1.35"/>
<line x1="503.05" y1="441.80" x2="503.05" y2="445.20" stroke="#000" stroke-width="1.35"/>
<line x1="506.03" y1="441.80" x2="506.03" y2="445.20" stroke="#000" stroke-width="1.35"/>
<line x1="508.70" y1="441.80" x2="508.70" y2="446.70" stroke="#000" stroke-width="1.8"/>
<text transform="translate(509.20,460.25)" text-anchor="middle" style="font-size:11.00px;stroke:#000;stroke-width:0.55px;stroke-linejoin:round;" fill="#000">1</text>
<line x1="526.25" y1="441.80" x2="526.25" y2="445.20" stroke="#000" stroke-width="1.35"/>
<line x1="536.52" y1="441.80" x2="536.52" y2="445.20" stroke="#000" stroke-width="1.35"/>
<line x1="543.80" y1="441.80" x2="543.80" y2="445.20" stroke="#000" stroke-width="1.35"/>
<line x1="549.45" y1="441.80" x2="549.45" y2="445.20" stroke="#000" stroke-width="1.35"/>
<line x1="554.07" y1="441.80" x2="554.07" y2="445.20" stroke="#000" stroke-width="1.35"/>
<line x1="557.97" y1="441.80" x2="557.97" y2="445.20" stroke="#000" stroke-width="1.35"/>
<line x1="561.35" y1="441.80" x2="561.35" y2="445.20" stroke="#000" stroke-width="1.35"/>
<line x1="564.33" y1="441.80" x2="564.33" y2="445.20" stroke="#000" stroke-width="1.35"/>
<line x1="567.00" y1="441.80" x2="567.00" y2="446.70" stroke="#000" stroke-width="1.8"/>
<text transform="translate(567.50,460.25)" text-anchor="middle" style="font-size:11.00px;stroke:#000;stroke-width:0.55px;stroke-linejoin:round;" fill="#000">10</text>
<line x1="584.55" y1="441.80" x2="584.55" y2="445.20" stroke="#000" stroke-width="1.35"/>
<line x1="594.82" y1="441.80" x2="594.82" y2="445.20" stroke="#000" stroke-width="1.35"/>
<line x1="602.10" y1="441.80" x2="602.10" y2="445.20" stroke="#000" stroke-width="1.35"/>
<line x1="607.75" y1="441.80" x2="607.75" y2="445.20" stroke="#000" stroke-width="1.35"/>
<line x1="612.37" y1="441.80" x2="612.37" y2="445.20" stroke="#000" stroke-width="1.35"/>
<line x1="616.27" y1="441.80" x2="616.27" y2="445.20" stroke="#000" stroke-width="1.35"/>
<line x1="619.65" y1="441.80" x2="619.65" y2="445.20" stroke="#000" stroke-width="1.35"/>
<line x1="622.63" y1="441.80" x2="622.63" y2="445.20" stroke="#000" stroke-width="1.35"/>
<line x1="625.30" y1="441.80" x2="625.30" y2="446.70" stroke="#000" stroke-width="1.8"/>
<text transform="translate(625.80,460.25)" text-anchor="middle" style="font-size:11.00px;stroke:#000;stroke-width:0.55px;stroke-linejoin:round;" fill="#000">100</text>
<text transform="translate(498.40,272.90)" text-anchor="middle" style="font-size:14.60px;font-weight:bold;" fill="#000" textLength="85.60" lengthAdjust="spacingAndGlyphs">7S globulins</text>
<text transform="translate(478.60,295.60) scale(1.0526,1)" text-anchor="start" style="font-size:11.97px;" fill="#000" textLength="45.88" lengthAdjust="spacingAndGlyphs">r = -0.18</text>
<text transform="translate(478.60,311.20) scale(1.0526,1)" style="font-size:11.97px" textLength="45.03" lengthAdjust="spacingAndGlyphs"><tspan style="font-style:italic">P</tspan> = 0.30</text>
<text transform="translate(350.10,364.20) rotate(-90) scale(1,1.07)" text-anchor="middle" style="font-size:14.70px;font-weight:bold;" fill="#000" textLength="58.80" lengthAdjust="spacingAndGlyphs">Act d 7S</text>
<text transform="translate(508.60,477.60)" text-anchor="middle" style="font-size:14.60px;font-weight:bold;" fill="#000" textLength="50.20" lengthAdjust="spacingAndGlyphs">Ara h 1</text>
<circle cx="432.9" cy="355.8" r="2.95" fill="none" stroke="#1c1c1c" stroke-width="1.0"/>
<circle cx="432.9" cy="368.9" r="2.95" fill="none" stroke="#1c1c1c" stroke-width="1.0"/>
<circle cx="432.9" cy="376.8" r="2.95" fill="none" stroke="#1c1c1c" stroke-width="1.0"/>
<circle cx="432.9" cy="378.6" r="2.95" fill="none" stroke="#1c1c1c" stroke-width="1.0"/>
<circle cx="432.9" cy="380.4" r="2.95" fill="none" stroke="#1c1c1c" stroke-width="1.0"/>
<circle cx="432.9" cy="393.4" r="2.95" fill="none" stroke="#1c1c1c" stroke-width="1.0"/>
<circle cx="432.9" cy="420.4" r="2.95" fill="none" stroke="#1c1c1c" stroke-width="1.0"/>
<circle cx="499.8" cy="420.4" r="2.95" fill="none" stroke="#1c1c1c" stroke-width="1.0"/>
<circle cx="507.7" cy="420.4" r="2.95" fill="none" stroke="#1c1c1c" stroke-width="1.0"/>
<circle cx="511.1" cy="420.4" r="2.95" fill="none" stroke="#1c1c1c" stroke-width="1.0"/>
<circle cx="536.0" cy="420.4" r="2.95" fill="none" stroke="#1c1c1c" stroke-width="1.0"/>
<circle cx="544.6" cy="420.4" r="2.95" fill="none" stroke="#1c1c1c" stroke-width="1.0"/>
<circle cx="546.9" cy="420.4" r="2.95" fill="none" stroke="#1c1c1c" stroke-width="1.0"/>
<circle cx="550.4" cy="420.4" r="2.95" fill="none" stroke="#1c1c1c" stroke-width="1.0"/>
<circle cx="572.8" cy="420.4" r="2.95" fill="none" stroke="#1c1c1c" stroke-width="1.0"/>
<circle cx="578.0" cy="420.4" r="2.95" fill="none" stroke="#1c1c1c" stroke-width="1.0"/>
<circle cx="579.9" cy="420.4" r="2.95" fill="none" stroke="#1c1c1c" stroke-width="1.0"/>
<circle cx="582.7" cy="420.4" r="2.95" fill="none" stroke="#1c1c1c" stroke-width="1.0"/>
<circle cx="590.5" cy="420.4" r="2.95" fill="none" stroke="#1c1c1c" stroke-width="1.0"/>
<circle cx="591.6" cy="420.4" r="2.95" fill="none" stroke="#1c1c1c" stroke-width="1.0"/>
<circle cx="601.3" cy="420.4" r="2.95" fill="none" stroke="#1c1c1c" stroke-width="1.0"/>
<circle cx="612.0" cy="420.4" r="2.95" fill="none" stroke="#1c1c1c" stroke-width="1.0"/>
<circle cx="570.5" cy="389.1" r="2.95" fill="none" stroke="#1c1c1c" stroke-width="1.0"/>
<circle cx="593.7" cy="386.6" r="2.95" fill="none" stroke="#1c1c1c" stroke-width="1.0"/>
<circle cx="604.6" cy="381.9" r="2.95" fill="none" stroke="#1c1c1c" stroke-width="1.0"/>
<circle cx="608.3" cy="381.8" r="2.95" fill="none" stroke="#1c1c1c" stroke-width="1.0"/>
<line x1="54.00" y1="524.10" x2="54.00" y2="680.50" stroke="#000" stroke-width="2.0"/>
<line x1="53.00" y1="679.50" x2="285.40" y2="679.50" stroke="#000" stroke-width="2.0"/>
<line x1="49.10" y1="679.50" x2="54.00" y2="679.50" stroke="#000" stroke-width="1.8"/>
<text transform="translate(45.40,683.65)" text-anchor="end" style="font-size:11.00px;stroke:#000;stroke-width:0.55px;stroke-linejoin:round;" fill="#000">0.01</text>
<line x1="50.60" y1="670.20" x2="54.00" y2="670.20" stroke="#000" stroke-width="1.35"/>
<line x1="50.60" y1="664.76" x2="54.00" y2="664.76" stroke="#000" stroke-width="1.35"/>
<line x1="50.60" y1="660.90" x2="54.00" y2="660.90" stroke="#000" stroke-width="1.35"/>
<line x1="50.60" y1="657.90" x2="54.00" y2="657.90" stroke="#000" stroke-width="1.35"/>
<line x1="50.60" y1="655.46" x2="54.00" y2="655.46" stroke="#000" stroke-width="1.35"/>
<line x1="50.60" y1="653.39" x2="54.00" y2="653.39" stroke="#000" stroke-width="1.35"/>
<line x1="50.60" y1="651.59" x2="54.00" y2="651.59" stroke="#000" stroke-width="1.35"/>
<line x1="50.60" y1="650.01" x2="54.00" y2="650.01" stroke="#000" stroke-width="1.35"/>
<line x1="49.10" y1="648.60" x2="54.00" y2="648.60" stroke="#000" stroke-width="1.8"/>
<text transform="translate(45.40,652.75)" text-anchor="end" style="font-size:11.00px;stroke:#000;stroke-width:0.55px;stroke-linejoin:round;" fill="#000">0.1</text>
<line x1="50.60" y1="639.30" x2="54.00" y2="639.30" stroke="#000" stroke-width="1.35"/>
<line x1="50.60" y1="633.86" x2="54.00" y2="633.86" stroke="#000" stroke-width="1.35"/>
<line x1="50.60" y1="630.00" x2="54.00" y2="630.00" stroke="#000" stroke-width="1.35"/>
<line x1="50.60" y1="627.00" x2="54.00" y2="627.00" stroke="#000" stroke-width="1.35"/>
<line x1="50.60" y1="624.56" x2="54.00" y2="624.56" stroke="#000" stroke-width="1.35"/>
<line x1="50.60" y1="622.49" x2="54.00" y2="622.49" stroke="#000" stroke-width="1.35"/>
<line x1="50.60" y1="620.69" x2="54.00" y2="620.69" stroke="#000" stroke-width="1.35"/>
<line x1="50.60" y1="619.11" x2="54.00" y2="619.11" stroke="#000" stroke-width="1.35"/>
<line x1="49.10" y1="617.70" x2="54.00" y2="617.70" stroke="#000" stroke-width="1.8"/>
<text transform="translate(45.40,621.85)" text-anchor="end" style="font-size:11.00px;stroke:#000;stroke-width:0.55px;stroke-linejoin:round;" fill="#000">1</text>
<line x1="50.60" y1="608.40" x2="54.00" y2="608.40" stroke="#000" stroke-width="1.35"/>
<line x1="50.60" y1="602.96" x2="54.00" y2="602.96" stroke="#000" stroke-width="1.35"/>
<line x1="50.60" y1="599.10" x2="54.00" y2="599.10" stroke="#000" stroke-width="1.35"/>
<line x1="50.60" y1="596.10" x2="54.00" y2="596.10" stroke="#000" stroke-width="1.35"/>
<line x1="50.60" y1="593.66" x2="54.00" y2="593.66" stroke="#000" stroke-width="1.35"/>
<line x1="50.60" y1="591.59" x2="54.00" y2="591.59" stroke="#000" stroke-width="1.35"/>
<line x1="50.60" y1="589.79" x2="54.00" y2="589.79" stroke="#000" stroke-width="1.35"/>
<line x1="50.60" y1="588.21" x2="54.00" y2="588.21" stroke="#000" stroke-width="1.35"/>
<line x1="49.10" y1="586.80" x2="54.00" y2="586.80" stroke="#000" stroke-width="1.8"/>
<text transform="translate(45.40,590.95)" text-anchor="end" style="font-size:11.00px;stroke:#000;stroke-width:0.55px;stroke-linejoin:round;" fill="#000">10</text>
<line x1="50.60" y1="577.50" x2="54.00" y2="577.50" stroke="#000" stroke-width="1.35"/>
<line x1="50.60" y1="572.06" x2="54.00" y2="572.06" stroke="#000" stroke-width="1.35"/>
<line x1="50.60" y1="568.20" x2="54.00" y2="568.20" stroke="#000" stroke-width="1.35"/>
<line x1="50.60" y1="565.20" x2="54.00" y2="565.20" stroke="#000" stroke-width="1.35"/>
<line x1="50.60" y1="562.76" x2="54.00" y2="562.76" stroke="#000" stroke-width="1.35"/>
<line x1="50.60" y1="560.69" x2="54.00" y2="560.69" stroke="#000" stroke-width="1.35"/>
<line x1="50.60" y1="558.89" x2="54.00" y2="558.89" stroke="#000" stroke-width="1.35"/>
<line x1="50.60" y1="557.31" x2="54.00" y2="557.31" stroke="#000" stroke-width="1.35"/>
<line x1="49.10" y1="555.90" x2="54.00" y2="555.90" stroke="#000" stroke-width="1.8"/>
<text transform="translate(45.40,560.05)" text-anchor="end" style="font-size:11.00px;stroke:#000;stroke-width:0.55px;stroke-linejoin:round;" fill="#000">100</text>
<line x1="50.60" y1="546.60" x2="54.00" y2="546.60" stroke="#000" stroke-width="1.35"/>
<line x1="50.60" y1="541.16" x2="54.00" y2="541.16" stroke="#000" stroke-width="1.35"/>
<line x1="50.60" y1="537.30" x2="54.00" y2="537.30" stroke="#000" stroke-width="1.35"/>
<line x1="50.60" y1="534.30" x2="54.00" y2="534.30" stroke="#000" stroke-width="1.35"/>
<line x1="50.60" y1="531.86" x2="54.00" y2="531.86" stroke="#000" stroke-width="1.35"/>
<line x1="50.60" y1="529.79" x2="54.00" y2="529.79" stroke="#000" stroke-width="1.35"/>
<line x1="50.60" y1="527.99" x2="54.00" y2="527.99" stroke="#000" stroke-width="1.35"/>
<line x1="50.60" y1="526.41" x2="54.00" y2="526.41" stroke="#000" stroke-width="1.35"/>
<line x1="49.10" y1="525.00" x2="54.00" y2="525.00" stroke="#000" stroke-width="1.8"/>
<text transform="translate(45.40,529.15)" text-anchor="end" style="font-size:11.00px;stroke:#000;stroke-width:0.55px;stroke-linejoin:round;" fill="#000">1000</text>
<line x1="54.00" y1="679.50" x2="54.00" y2="684.40" stroke="#000" stroke-width="1.8"/>
<text transform="translate(54.50,697.45)" text-anchor="middle" style="font-size:11.00px;stroke:#000;stroke-width:0.55px;stroke-linejoin:round;" fill="#000">0.01</text>
<line x1="67.88" y1="679.50" x2="67.88" y2="682.90" stroke="#000" stroke-width="1.35"/>
<line x1="76.00" y1="679.50" x2="76.00" y2="682.90" stroke="#000" stroke-width="1.35"/>
<line x1="81.75" y1="679.50" x2="81.75" y2="682.90" stroke="#000" stroke-width="1.35"/>
<line x1="86.22" y1="679.50" x2="86.22" y2="682.90" stroke="#000" stroke-width="1.35"/>
<line x1="89.87" y1="679.50" x2="89.87" y2="682.90" stroke="#000" stroke-width="1.35"/>
<line x1="92.96" y1="679.50" x2="92.96" y2="682.90" stroke="#000" stroke-width="1.35"/>
<line x1="95.63" y1="679.50" x2="95.63" y2="682.90" stroke="#000" stroke-width="1.35"/>
<line x1="97.99" y1="679.50" x2="97.99" y2="682.90" stroke="#000" stroke-width="1.35"/>
<line x1="100.10" y1="679.50" x2="100.10" y2="684.40" stroke="#000" stroke-width="1.8"/>
<text transform="translate(100.60,697.45)" text-anchor="middle" style="font-size:11.00px;stroke:#000;stroke-width:0.55px;stroke-linejoin:round;" fill="#000">0.1</text>
<line x1="113.98" y1="679.50" x2="113.98" y2="682.90" stroke="#000" stroke-width="1.35"/>
<line x1="122.10" y1="679.50" x2="122.10" y2="682.90" stroke="#000" stroke-width="1.35"/>
<line x1="127.85" y1="679.50" x2="127.85" y2="682.90" stroke="#000" stroke-width="1.35"/>
<line x1="132.32" y1="679.50" x2="132.32" y2="682.90" stroke="#000" stroke-width="1.35"/>
<line x1="135.97" y1="679.50" x2="135.97" y2="682.90" stroke="#000" stroke-width="1.35"/>
<line x1="139.06" y1="679.50" x2="139.06" y2="682.90" stroke="#000" stroke-width="1.35"/>
<line x1="141.73" y1="679.50" x2="141.73" y2="682.90" stroke="#000" stroke-width="1.35"/>
<line x1="144.09" y1="679.50" x2="144.09" y2="682.90" stroke="#000" stroke-width="1.35"/>
<line x1="146.20" y1="679.50" x2="146.20" y2="684.40" stroke="#000" stroke-width="1.8"/>
<text transform="translate(146.70,697.45)" text-anchor="middle" style="font-size:11.00px;stroke:#000;stroke-width:0.55px;stroke-linejoin:round;" fill="#000">1</text>
<line x1="160.08" y1="679.50" x2="160.08" y2="682.90" stroke="#000" stroke-width="1.35"/>
<line x1="168.20" y1="679.50" x2="168.20" y2="682.90" stroke="#000" stroke-width="1.35"/>
<line x1="173.95" y1="679.50" x2="173.95" y2="682.90" stroke="#000" stroke-width="1.35"/>
<line x1="178.42" y1="679.50" x2="178.42" y2="682.90" stroke="#000" stroke-width="1.35"/>
<line x1="182.07" y1="679.50" x2="182.07" y2="682.90" stroke="#000" stroke-width="1.35"/>
<line x1="185.16" y1="679.50" x2="185.16" y2="682.90" stroke="#000" stroke-width="1.35"/>
<line x1="187.83" y1="679.50" x2="187.83" y2="682.90" stroke="#000" stroke-width="1.35"/>
<line x1="190.19" y1="679.50" x2="190.19" y2="682.90" stroke="#000" stroke-width="1.35"/>
<line x1="192.30" y1="679.50" x2="192.30" y2="684.40" stroke="#000" stroke-width="1.8"/>
<text transform="translate(192.80,697.45)" text-anchor="middle" style="font-size:11.00px;stroke:#000;stroke-width:0.55px;stroke-linejoin:round;" fill="#000">10</text>
<line x1="206.18" y1="679.50" x2="206.18" y2="682.90" stroke="#000" stroke-width="1.35"/>
<line x1="214.30" y1="679.50" x2="214.30" y2="682.90" stroke="#000" stroke-width="1.35"/>
<line x1="220.05" y1="679.50" x2="220.05" y2="682.90" stroke="#000" stroke-width="1.35"/>
<line x1="224.52" y1="679.50" x2="224.52" y2="682.90" stroke="#000" stroke-width="1.35"/>
<line x1="228.17" y1="679.50" x2="228.17" y2="682.90" stroke="#000" stroke-width="1.35"/>
<line x1="231.26" y1="679.50" x2="231.26" y2="682.90" stroke="#000" stroke-width="1.35"/>
<line x1="233.93" y1="679.50" x2="233.93" y2="682.90" stroke="#000" stroke-width="1.35"/>
<line x1="236.29" y1="679.50" x2="236.29" y2="682.90" stroke="#000" stroke-width="1.35"/>
<line x1="238.40" y1="679.50" x2="238.40" y2="684.40" stroke="#000" stroke-width="1.8"/>
<text transform="translate(238.90,697.45)" text-anchor="middle" style="font-size:11.00px;stroke:#000;stroke-width:0.55px;stroke-linejoin:round;" fill="#000">100</text>
<line x1="252.28" y1="679.50" x2="252.28" y2="682.90" stroke="#000" stroke-width="1.35"/>
<line x1="260.40" y1="679.50" x2="260.40" y2="682.90" stroke="#000" stroke-width="1.35"/>
<line x1="266.15" y1="679.50" x2="266.15" y2="682.90" stroke="#000" stroke-width="1.35"/>
<line x1="270.62" y1="679.50" x2="270.62" y2="682.90" stroke="#000" stroke-width="1.35"/>
<line x1="274.27" y1="679.50" x2="274.27" y2="682.90" stroke="#000" stroke-width="1.35"/>
<line x1="277.36" y1="679.50" x2="277.36" y2="682.90" stroke="#000" stroke-width="1.35"/>
<line x1="280.03" y1="679.50" x2="280.03" y2="682.90" stroke="#000" stroke-width="1.35"/>
<line x1="282.39" y1="679.50" x2="282.39" y2="682.90" stroke="#000" stroke-width="1.35"/>
<line x1="284.50" y1="679.50" x2="284.50" y2="684.40" stroke="#000" stroke-width="1.8"/>
<text transform="translate(285.00,697.45)" text-anchor="middle" style="font-size:11.00px;stroke:#000;stroke-width:0.55px;stroke-linejoin:round;" fill="#000">1000</text>
<text transform="translate(159.25,510.30)" text-anchor="middle" style="font-size:14.60px;font-weight:bold;" fill="#000" textLength="86.50" lengthAdjust="spacingAndGlyphs">2S albumins</text>
<text transform="translate(139.50,533.80) scale(1.0526,1)" text-anchor="start" style="font-size:11.97px;" fill="#000" textLength="40.56" lengthAdjust="spacingAndGlyphs">r = 0.17</text>
<text transform="translate(139.50,549.10) scale(1.0526,1)" style="font-size:11.97px" textLength="45.03" lengthAdjust="spacingAndGlyphs"><tspan style="font-style:italic">P</tspan> = 0.44</text>
<text transform="translate(12.90,601.95) rotate(-90) scale(1,1.07)" text-anchor="middle" style="font-size:14.70px;font-weight:bold;" fill="#000" textLength="56.30" lengthAdjust="spacingAndGlyphs">Act d 13</text>
<text transform="translate(171.35,714.70)" text-anchor="middle" style="font-size:14.60px;font-weight:bold;" fill="#000" textLength="50.90" lengthAdjust="spacingAndGlyphs">Ara h 2</text>
<circle cx="86.2" cy="610.7" r="3.05" fill="#000"/>
<circle cx="86.2" cy="615.0" r="3.05" fill="#000"/>
<circle cx="86.2" cy="657.7" r="3.05" fill="#000"/>
<circle cx="142.0" cy="604.1" r="3.05" fill="#000"/>
<circle cx="136.0" cy="657.7" r="3.05" fill="#000"/>
<circle cx="152.4" cy="657.7" r="3.05" fill="#000"/>
<circle cx="186.9" cy="657.7" r="3.05" fill="#000"/>
<circle cx="188.8" cy="657.7" r="3.05" fill="#000"/>
<circle cx="216.1" cy="657.7" r="3.05" fill="#000"/>
<circle cx="223.2" cy="657.7" r="3.05" fill="#000"/>
<circle cx="248.1" cy="657.7" r="3.05" fill="#000"/>
<circle cx="219.1" cy="612.9" r="3.05" fill="#000"/>
<circle cx="232.1" cy="629.5" r="3.05" fill="#000"/>
<circle cx="247.6" cy="535.7" r="3.05" fill="#000"/>
<line x1="392.10" y1="522.80" x2="392.10" y2="679.70" stroke="#000" stroke-width="2.0"/>
<line x1="391.10" y1="678.70" x2="626.10" y2="678.70" stroke="#000" stroke-width="2.0"/>
<line x1="387.20" y1="678.70" x2="392.10" y2="678.70" stroke="#000" stroke-width="1.8"/>
<text transform="translate(383.50,682.85)" text-anchor="end" style="font-size:11.00px;stroke:#000;stroke-width:0.55px;stroke-linejoin:round;" fill="#000">0.01</text>
<line x1="388.70" y1="669.37" x2="392.10" y2="669.37" stroke="#000" stroke-width="1.35"/>
<line x1="388.70" y1="663.91" x2="392.10" y2="663.91" stroke="#000" stroke-width="1.35"/>
<line x1="388.70" y1="660.04" x2="392.10" y2="660.04" stroke="#000" stroke-width="1.35"/>
<line x1="388.70" y1="657.03" x2="392.10" y2="657.03" stroke="#000" stroke-width="1.35"/>
<line x1="388.70" y1="654.58" x2="392.10" y2="654.58" stroke="#000" stroke-width="1.35"/>
<line x1="388.70" y1="652.50" x2="392.10" y2="652.50" stroke="#000" stroke-width="1.35"/>
<line x1="388.70" y1="650.70" x2="392.10" y2="650.70" stroke="#000" stroke-width="1.35"/>
<line x1="388.70" y1="649.12" x2="392.10" y2="649.12" stroke="#000" stroke-width="1.35"/>
<line x1="387.20" y1="647.70" x2="392.10" y2="647.70" stroke="#000" stroke-width="1.8"/>
<text transform="translate(383.50,651.85)" text-anchor="end" style="font-size:11.00px;stroke:#000;stroke-width:0.55px;stroke-linejoin:round;" fill="#000">0.1</text>
<line x1="388.70" y1="638.37" x2="392.10" y2="638.37" stroke="#000" stroke-width="1.35"/>
<line x1="388.70" y1="632.91" x2="392.10" y2="632.91" stroke="#000" stroke-width="1.35"/>
<line x1="388.70" y1="629.04" x2="392.10" y2="629.04" stroke="#000" stroke-width="1.35"/>
<line x1="388.70" y1="626.03" x2="392.10" y2="626.03" stroke="#000" stroke-width="1.35"/>
<line x1="388.70" y1="623.58" x2="392.10" y2="623.58" stroke="#000" stroke-width="1.35"/>
<line x1="388.70" y1="621.50" x2="392.10" y2="621.50" stroke="#000" stroke-width="1.35"/>
<line x1="388.70" y1="619.70" x2="392.10" y2="619.70" stroke="#000" stroke-width="1.35"/>
<line x1="388.70" y1="618.12" x2="392.10" y2="618.12" stroke="#000" stroke-width="1.35"/>
<line x1="387.20" y1="616.70" x2="392.10" y2="616.70" stroke="#000" stroke-width="1.8"/>
<text transform="translate(383.50,620.85)" text-anchor="end" style="font-size:11.00px;stroke:#000;stroke-width:0.55px;stroke-linejoin:round;" fill="#000">1</text>
<line x1="388.70" y1="607.37" x2="392.10" y2="607.37" stroke="#000" stroke-width="1.35"/>
<line x1="388.70" y1="601.91" x2="392.10" y2="601.91" stroke="#000" stroke-width="1.35"/>
<line x1="388.70" y1="598.04" x2="392.10" y2="598.04" stroke="#000" stroke-width="1.35"/>
<line x1="388.70" y1="595.03" x2="392.10" y2="595.03" stroke="#000" stroke-width="1.35"/>
<line x1="388.70" y1="592.58" x2="392.10" y2="592.58" stroke="#000" stroke-width="1.35"/>
<line x1="388.70" y1="590.50" x2="392.10" y2="590.50" stroke="#000" stroke-width="1.35"/>
<line x1="388.70" y1="588.70" x2="392.10" y2="588.70" stroke="#000" stroke-width="1.35"/>
<line x1="388.70" y1="587.12" x2="392.10" y2="587.12" stroke="#000" stroke-width="1.35"/>
<line x1="387.20" y1="585.70" x2="392.10" y2="585.70" stroke="#000" stroke-width="1.8"/>
<text transform="translate(383.50,589.85)" text-anchor="end" style="font-size:11.00px;stroke:#000;stroke-width:0.55px;stroke-linejoin:round;" fill="#000">10</text>
<line x1="388.70" y1="576.37" x2="392.10" y2="576.37" stroke="#000" stroke-width="1.35"/>
<line x1="388.70" y1="570.91" x2="392.10" y2="570.91" stroke="#000" stroke-width="1.35"/>
<line x1="388.70" y1="567.04" x2="392.10" y2="567.04" stroke="#000" stroke-width="1.35"/>
<line x1="388.70" y1="564.03" x2="392.10" y2="564.03" stroke="#000" stroke-width="1.35"/>
<line x1="388.70" y1="561.58" x2="392.10" y2="561.58" stroke="#000" stroke-width="1.35"/>
<line x1="388.70" y1="559.50" x2="392.10" y2="559.50" stroke="#000" stroke-width="1.35"/>
<line x1="388.70" y1="557.70" x2="392.10" y2="557.70" stroke="#000" stroke-width="1.35"/>
<line x1="388.70" y1="556.12" x2="392.10" y2="556.12" stroke="#000" stroke-width="1.35"/>
<line x1="387.20" y1="554.70" x2="392.10" y2="554.70" stroke="#000" stroke-width="1.8"/>
<text transform="translate(383.50,558.85)" text-anchor="end" style="font-size:11.00px;stroke:#000;stroke-width:0.55px;stroke-linejoin:round;" fill="#000">100</text>
<line x1="388.70" y1="545.37" x2="392.10" y2="545.37" stroke="#000" stroke-width="1.35"/>
<line x1="388.70" y1="539.91" x2="392.10" y2="539.91" stroke="#000" stroke-width="1.35"/>
<line x1="388.70" y1="536.04" x2="392.10" y2="536.04" stroke="#000" stroke-width="1.35"/>
<line x1="388.70" y1="533.03" x2="392.10" y2="533.03" stroke="#000" stroke-width="1.35"/>
<line x1="388.70" y1="530.58" x2="392.10" y2="530.58" stroke="#000" stroke-width="1.35"/>
<line x1="388.70" y1="528.50" x2="392.10" y2="528.50" stroke="#000" stroke-width="1.35"/>
<line x1="388.70" y1="526.70" x2="392.10" y2="526.70" stroke="#000" stroke-width="1.35"/>
<line x1="388.70" y1="525.12" x2="392.10" y2="525.12" stroke="#000" stroke-width="1.35"/>
<line x1="387.20" y1="523.70" x2="392.10" y2="523.70" stroke="#000" stroke-width="1.8"/>
<text transform="translate(383.50,527.85)" text-anchor="end" style="font-size:11.00px;stroke:#000;stroke-width:0.55px;stroke-linejoin:round;" fill="#000">1000</text>
<line x1="392.10" y1="678.70" x2="392.10" y2="683.60" stroke="#000" stroke-width="1.8"/>
<text transform="translate(392.60,697.05)" text-anchor="middle" style="font-size:11.00px;stroke:#000;stroke-width:0.55px;stroke-linejoin:round;" fill="#000">0.01</text>
<line x1="406.13" y1="678.70" x2="406.13" y2="682.10" stroke="#000" stroke-width="1.35"/>
<line x1="414.34" y1="678.70" x2="414.34" y2="682.10" stroke="#000" stroke-width="1.35"/>
<line x1="420.17" y1="678.70" x2="420.17" y2="682.10" stroke="#000" stroke-width="1.35"/>
<line x1="424.69" y1="678.70" x2="424.69" y2="682.10" stroke="#000" stroke-width="1.35"/>
<line x1="428.38" y1="678.70" x2="428.38" y2="682.10" stroke="#000" stroke-width="1.35"/>
<line x1="431.50" y1="678.70" x2="431.50" y2="682.10" stroke="#000" stroke-width="1.35"/>
<line x1="434.20" y1="678.70" x2="434.20" y2="682.10" stroke="#000" stroke-width="1.35"/>
<line x1="436.59" y1="678.70" x2="436.59" y2="682.10" stroke="#000" stroke-width="1.35"/>
<line x1="438.72" y1="678.70" x2="438.72" y2="683.60" stroke="#000" stroke-width="1.8"/>
<text transform="translate(439.22,697.05)" text-anchor="middle" style="font-size:11.00px;stroke:#000;stroke-width:0.55px;stroke-linejoin:round;" fill="#000">0.1</text>
<line x1="452.75" y1="678.70" x2="452.75" y2="682.10" stroke="#000" stroke-width="1.35"/>
<line x1="460.96" y1="678.70" x2="460.96" y2="682.10" stroke="#000" stroke-width="1.35"/>
<line x1="466.79" y1="678.70" x2="466.79" y2="682.10" stroke="#000" stroke-width="1.35"/>
<line x1="471.31" y1="678.70" x2="471.31" y2="682.10" stroke="#000" stroke-width="1.35"/>
<line x1="475.00" y1="678.70" x2="475.00" y2="682.10" stroke="#000" stroke-width="1.35"/>
<line x1="478.12" y1="678.70" x2="478.12" y2="682.10" stroke="#000" stroke-width="1.35"/>
<line x1="480.82" y1="678.70" x2="480.82" y2="682.10" stroke="#000" stroke-width="1.35"/>
<line x1="483.21" y1="678.70" x2="483.21" y2="682.10" stroke="#000" stroke-width="1.35"/>
<line x1="485.34" y1="678.70" x2="485.34" y2="683.60" stroke="#000" stroke-width="1.8"/>
<text transform="translate(485.84,697.05)" text-anchor="middle" style="font-size:11.00px;stroke:#000;stroke-width:0.55px;stroke-linejoin:round;" fill="#000">1</text>
<line x1="499.37" y1="678.70" x2="499.37" y2="682.10" stroke="#000" stroke-width="1.35"/>
<line x1="507.58" y1="678.70" x2="507.58" y2="682.10" stroke="#000" stroke-width="1.35"/>
<line x1="513.41" y1="678.70" x2="513.41" y2="682.10" stroke="#000" stroke-width="1.35"/>
<line x1="517.93" y1="678.70" x2="517.93" y2="682.10" stroke="#000" stroke-width="1.35"/>
<line x1="521.62" y1="678.70" x2="521.62" y2="682.10" stroke="#000" stroke-width="1.35"/>
<line x1="524.74" y1="678.70" x2="524.74" y2="682.10" stroke="#000" stroke-width="1.35"/>
<line x1="527.44" y1="678.70" x2="527.44" y2="682.10" stroke="#000" stroke-width="1.35"/>
<line x1="529.83" y1="678.70" x2="529.83" y2="682.10" stroke="#000" stroke-width="1.35"/>
<line x1="531.96" y1="678.70" x2="531.96" y2="683.60" stroke="#000" stroke-width="1.8"/>
<text transform="translate(532.46,697.05)" text-anchor="middle" style="font-size:11.00px;stroke:#000;stroke-width:0.55px;stroke-linejoin:round;" fill="#000">10</text>
<line x1="545.99" y1="678.70" x2="545.99" y2="682.10" stroke="#000" stroke-width="1.35"/>
<line x1="554.20" y1="678.70" x2="554.20" y2="682.10" stroke="#000" stroke-width="1.35"/>
<line x1="560.03" y1="678.70" x2="560.03" y2="682.10" stroke="#000" stroke-width="1.35"/>
<line x1="564.55" y1="678.70" x2="564.55" y2="682.10" stroke="#000" stroke-width="1.35"/>
<line x1="568.24" y1="678.70" x2="568.24" y2="682.10" stroke="#000" stroke-width="1.35"/>
<line x1="571.36" y1="678.70" x2="571.36" y2="682.10" stroke="#000" stroke-width="1.35"/>
<line x1="574.06" y1="678.70" x2="574.06" y2="682.10" stroke="#000" stroke-width="1.35"/>
<line x1="576.45" y1="678.70" x2="576.45" y2="682.10" stroke="#000" stroke-width="1.35"/>
<line x1="578.58" y1="678.70" x2="578.58" y2="683.60" stroke="#000" stroke-width="1.8"/>
<text transform="translate(579.08,697.05)" text-anchor="middle" style="font-size:11.00px;stroke:#000;stroke-width:0.55px;stroke-linejoin:round;" fill="#000">100</text>
<line x1="592.61" y1="678.70" x2="592.61" y2="682.10" stroke="#000" stroke-width="1.35"/>
<line x1="600.82" y1="678.70" x2="600.82" y2="682.10" stroke="#000" stroke-width="1.35"/>
<line x1="606.65" y1="678.70" x2="606.65" y2="682.10" stroke="#000" stroke-width="1.35"/>
<line x1="611.17" y1="678.70" x2="611.17" y2="682.10" stroke="#000" stroke-width="1.35"/>
<line x1="614.86" y1="678.70" x2="614.86" y2="682.10" stroke="#000" stroke-width="1.35"/>
<line x1="617.98" y1="678.70" x2="617.98" y2="682.10" stroke="#000" stroke-width="1.35"/>
<line x1="620.68" y1="678.70" x2="620.68" y2="682.10" stroke="#000" stroke-width="1.35"/>
<line x1="623.07" y1="678.70" x2="623.07" y2="682.10" stroke="#000" stroke-width="1.35"/>
<line x1="625.20" y1="678.70" x2="625.20" y2="683.60" stroke="#000" stroke-width="1.8"/>
<text transform="translate(625.70,697.05)" text-anchor="middle" style="font-size:11.00px;stroke:#000;stroke-width:0.55px;stroke-linejoin:round;" fill="#000">1000</text>
<text transform="translate(498.00,508.80)" text-anchor="middle" style="font-size:14.60px;font-weight:bold;" fill="#000" textLength="86.00" lengthAdjust="spacingAndGlyphs">2S albumins</text>
<text transform="translate(478.60,532.50) scale(1.0526,1)" text-anchor="start" style="font-size:11.97px;" fill="#000" textLength="41.42" lengthAdjust="spacingAndGlyphs">r = 0.06</text>
<text transform="translate(478.60,547.60) scale(1.0526,1)" style="font-size:11.97px" textLength="45.50" lengthAdjust="spacingAndGlyphs"><tspan style="font-style:italic">P</tspan> = 0.75</text>
<text transform="translate(351.00,601.35) rotate(-90) scale(1,1.07)" text-anchor="middle" style="font-size:14.70px;font-weight:bold;" fill="#000" textLength="56.90" lengthAdjust="spacingAndGlyphs">Act d 13</text>
<text transform="translate(510.70,713.90)" text-anchor="middle" style="font-size:14.60px;font-weight:bold;" fill="#000" textLength="51.20" lengthAdjust="spacingAndGlyphs">Ara h 2</text>
<circle cx="424.8" cy="604.7" r="2.95" fill="none" stroke="#1c1c1c" stroke-width="1.0"/>
<circle cx="424.8" cy="606.2" r="2.95" fill="none" stroke="#1c1c1c" stroke-width="1.0"/>
<circle cx="424.8" cy="628.7" r="2.95" fill="none" stroke="#1c1c1c" stroke-width="1.0"/>
<circle cx="424.8" cy="657.4" r="2.95" fill="none" stroke="#1c1c1c" stroke-width="1.0"/>
<circle cx="513.9" cy="627.0" r="2.95" fill="none" stroke="#1c1c1c" stroke-width="1.0"/>
<circle cx="556.0" cy="604.5" r="2.95" fill="none" stroke="#1c1c1c" stroke-width="1.0"/>
<circle cx="558.3" cy="625.2" r="2.95" fill="none" stroke="#1c1c1c" stroke-width="1.0"/>
<circle cx="572.0" cy="622.7" r="2.95" fill="none" stroke="#1c1c1c" stroke-width="1.0"/>
<circle cx="470.8" cy="657.4" r="2.95" fill="none" stroke="#1c1c1c" stroke-width="1.0"/>
<circle cx="472.2" cy="657.4" r="2.95" fill="none" stroke="#1c1c1c" stroke-width="1.0"/>
<circle cx="482.8" cy="657.4" r="2.95" fill="none" stroke="#1c1c1c" stroke-width="1.0"/>
<circle cx="497.7" cy="657.4" r="2.95" fill="none" stroke="#1c1c1c" stroke-width="1.0"/>
<circle cx="498.2" cy="657.4" r="2.95" fill="none" stroke="#1c1c1c" stroke-width="1.0"/>
<circle cx="510.5" cy="657.4" r="2.95" fill="none" stroke="#1c1c1c" stroke-width="1.0"/>
<circle cx="511.0" cy="657.4" r="2.95" fill="none" stroke="#1c1c1c" stroke-width="1.0"/>
<circle cx="516.6" cy="657.4" r="2.95" fill="none" stroke="#1c1c1c" stroke-width="1.0"/>
<circle cx="519.5" cy="657.4" r="2.95" fill="none" stroke="#1c1c1c" stroke-width="1.0"/>
<circle cx="523.8" cy="657.4" r="2.95" fill="none" stroke="#1c1c1c" stroke-width="1.0"/>
<circle cx="528.7" cy="657.4" r="2.95" fill="none" stroke="#1c1c1c" stroke-width="1.0"/>
<circle cx="537.6" cy="657.4" r="2.95" fill="none" stroke="#1c1c1c" stroke-width="1.0"/>
<circle cx="540.1" cy="657.4" r="2.95" fill="none" stroke="#1c1c1c" stroke-width="1.0"/>
<circle cx="545.6" cy="657.4" r="2.95" fill="none" stroke="#1c1c1c" stroke-width="1.0"/>
<circle cx="549.6" cy="657.4" r="2.95" fill="none" stroke="#1c1c1c" stroke-width="1.0"/>
<circle cx="559.2" cy="657.4" r="2.95" fill="none" stroke="#1c1c1c" stroke-width="1.0"/>
<circle cx="559.7" cy="657.4" r="2.95" fill="none" stroke="#1c1c1c" stroke-width="1.0"/>
<circle cx="562.9" cy="657.4" r="2.95" fill="none" stroke="#1c1c1c" stroke-width="1.0"/>
<circle cx="581.8" cy="657.4" r="2.95" fill="none" stroke="#1c1c1c" stroke-width="1.0"/>
<text transform="translate(265.70,539.60)" text-anchor="start" style="font-size:12.40px;" fill="#000" textLength="52.90" lengthAdjust="spacingAndGlyphs">Act d 13+</text>
<line x1="105.60" y1="14.40" x2="259.70" y2="14.40" stroke="#b4b4b4" stroke-width="1.0"/>
<text transform="translate(107.00,14.00)" text-anchor="start" style="font-size:16.00px;" fill="#000" textLength="151.30" lengthAdjust="spacingAndGlyphs">Reporting kiwi allergy</text>
<line x1="414.10" y1="13.30" x2="590.30" y2="13.30" stroke="#b4b4b4" stroke-width="1.0"/>
<text transform="translate(415.60,13.10)" text-anchor="start" style="font-size:16.00px;" fill="#000" textLength="172.80" lengthAdjust="spacingAndGlyphs">Not reporting kiwi allergy</text>
</svg>
</body></html>
